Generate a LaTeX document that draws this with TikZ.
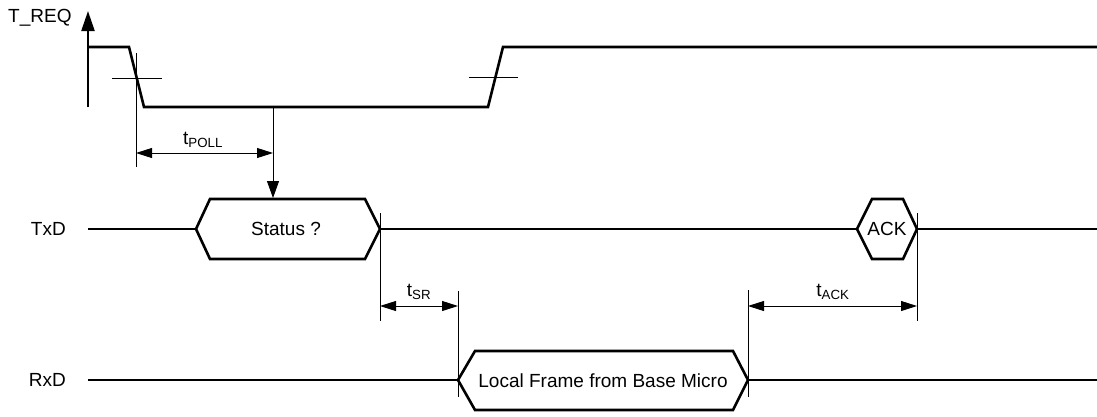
\documentclass[tikz,border=0pt]{standalone}
\usepackage{fontspec}
\setmainfont{Liberation Sans}
\usetikzlibrary{arrows.meta}

\begin{document}
\begin{tikzpicture}[x=1pt, y=-1pt,
    sig/.style={line width=2.6pt, line join=miter},
    thin_line/.style={line width=0.9pt},
    dim_arrow/.style={line width=0.9pt, {Triangle[length=16pt,width=10pt]}-{Triangle[length=16pt,width=10pt]}},
    lbl/.style={font=\fontsize{19}{22}\selectfont, inner sep=0pt}]
    \useasboundingbox (0,0) rectangle (1097,416);

    % signal names
    \node[lbl, anchor=west] (treq) at (8, 18) {T\_REQ};
    \node[lbl, anchor=east] (txd) at (66, 229) {TxD};
    \node[lbl, anchor=east] (rxd) at (66, 380) {RxD};

    % T_REQ axis and waveform
    \coordinate (axis_bot) at (88, 107);
    \coordinate (axis_top) at (88, 11);
    \draw[line width=2.2pt, -{Triangle[length=20pt,width=13pt]}] (axis_bot) -- (axis_top);
    \draw[sig] (88, 47) -- (129, 47) -- (144, 107) -- (488, 107) -- (503, 47) -- (1097, 47);

    % crosshairs on the edges
    \draw[thin_line] (112, 78) -- (162, 78);
    \draw[thin_line] (469, 77) -- (518, 77);

    % TxD
    \coordinate (tx_start) at (88, 229);
    \coordinate (tx_end) at (1097, 229);
    \draw[sig] (tx_start) -- (196, 229);
    \draw[sig] (196, 229) -- (210, 199) -- (365, 199) -- (380, 229) -- (365, 259) -- (210, 259) -- cycle;
    \draw[sig] (380, 229) -- (857, 229);
    \draw[sig] (857, 229) -- (872, 199) -- (903, 199) -- (917, 229) -- (903, 259) -- (872, 259) -- cycle;
    \draw[sig] (917, 229) -- (tx_end);
    \node[lbl] (status) at (286, 229) {Status ?};
    \node[lbl] (ack) at (887, 229) {ACK};

    % RxD
    \coordinate (rx_start) at (88, 380);
    \coordinate (rx_end) at (1097, 380);
    \draw[sig] (rx_start) -- (458, 380);
    \draw[sig] (458, 380) -- (475, 351) -- (733, 351) -- (748, 380) -- (733, 410) -- (475, 410) -- cycle;
    \draw[sig] (748, 380) -- (rx_end);
    \node[lbl] (frame) at (603, 381) {Local Frame from Base Micro};

    % timing marks
    \coordinate (poll_a) at (136, 153);
    \coordinate (poll_b) at (273, 153);
    \draw[thin_line] (136, 53) -- (136, 167);
    \draw[thin_line, -{Triangle[length=17pt,width=12pt]}] (273, 107) -- (273, 198);
    \draw[dim_arrow] (poll_a) -- (poll_b);
    \node[lbl] (tpoll) at (203, 140) {t\textsubscript{POLL}};

    \coordinate (sr_a) at (380, 306);
    \coordinate (sr_b) at (458, 306);
    \draw[thin_line] (380, 213) -- (380, 321);
    \draw[thin_line] (458, 291) -- (458, 397);
    \draw[dim_arrow] (sr_a) -- (sr_b);
    \node[lbl] (tsr) at (419, 292) {t\textsubscript{SR}};

    \coordinate (ack_a) at (748, 306);
    \coordinate (ack_b) at (917, 306);
    \draw[thin_line] (748, 290) -- (748, 397);
    \draw[thin_line] (917, 213) -- (917, 321);
    \draw[dim_arrow] (ack_a) -- (ack_b);
    \node[lbl] (tack) at (833, 292) {t\textsubscript{ACK}};
\end{tikzpicture}
\end{document}
